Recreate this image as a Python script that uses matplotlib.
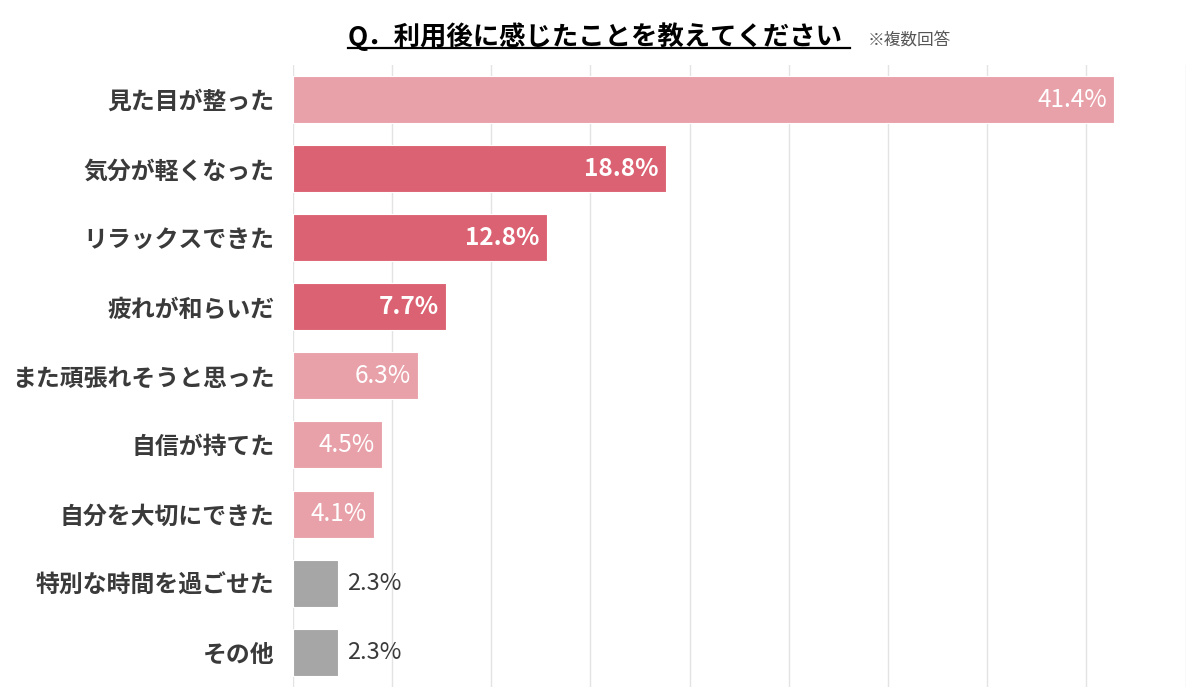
"""利用後アンケート（複数回答）の横棒グラフ。"""

import matplotlib.pyplot as plt

plt.rcParams["font.family"] = ["Noto Sans CJK JP", "DejaVu Sans"]

CATEGORIES = [
    "見た目が整った",
    "気分が軽くなった",
    "リラックスできた",
    "疲れが和らいだ",
    "また頑張れそうと思った",
    "自信が持てた",
    "自分を大切にできた",
    "特別な時間を過ごせた",
    "その他",
]
VALUES = [41.4, 18.8, 12.8, 7.7, 6.3, 4.5, 4.1, 2.3, 2.3]
# 0 = 淡いピンク, 1 = 濃いピンク, 2 = グレー
GROUPS = [0, 1, 1, 1, 0, 0, 0, 2, 2]

PINK_LIGHT = "#E8A1A9"
PINK_DARK = "#DB6272"
GREY = "#A6A6A6"
TEXT = "#3A3A3A"
COLORS = {0: PINK_LIGHT, 1: PINK_DARK, 2: GREY}

fig = plt.figure(figsize=(12, 7), dpi=100)
ax = fig.add_axes([0.244, 0.019, 0.744, 0.888])

ypos = list(range(len(CATEGORIES)))
ax.barh(
    ypos,
    VALUES,
    height=0.68,
    color=[COLORS[g] for g in GROUPS],
    edgecolor="white",
    linewidth=0.8,
    zorder=2,
)

ax.set_xlim(0, 45)
ax.set_ylim(len(CATEGORIES) - 0.5, -0.5)
ax.set_xticks(range(0, 46, 5))
ax.xaxis.grid(True, color="#E3E3E3", linewidth=1.0, zorder=0)
ax.set_xticklabels([])
ax.tick_params(axis="both", length=0)
ax.set_yticks(ypos)
ax.set_yticklabels(CATEGORIES, fontsize=17.2, fontweight="bold", color=TEXT)
ax.tick_params(axis="y", pad=13)
for s in ax.spines.values():
    s.set_visible(False)

for y, v, g in zip(ypos, VALUES, GROUPS):
    label = f"{v:.1f}%"
    if g == 2:
        ax.text(v + 0.45, y, label, ha="left", va="center",
                fontsize=17, color=TEXT, zorder=3)
    else:
        ax.text(v - 0.35, y, label, ha="right", va="center",
                fontsize=17.5, color="white", zorder=3,
                fontweight="bold" if g == 1 else "normal")

# タイトル（下線付き）と注記
fig.text(0.29, 0.948, "Q．利用後に感じたことを教えてください",
         fontsize=19, fontweight="bold", color="black",
         ha="left", va="center")
fig.lines.append(plt.Line2D([0.29, 0.708], [0.932, 0.932],
                            transform=fig.transFigure, color="black",
                            linewidth=1.6))
fig.text(0.723, 0.942, "※複数回答", fontsize=12, color="#555555",
         ha="left", va="center")

plt.savefig("out.png", dpi=100, facecolor="white")
